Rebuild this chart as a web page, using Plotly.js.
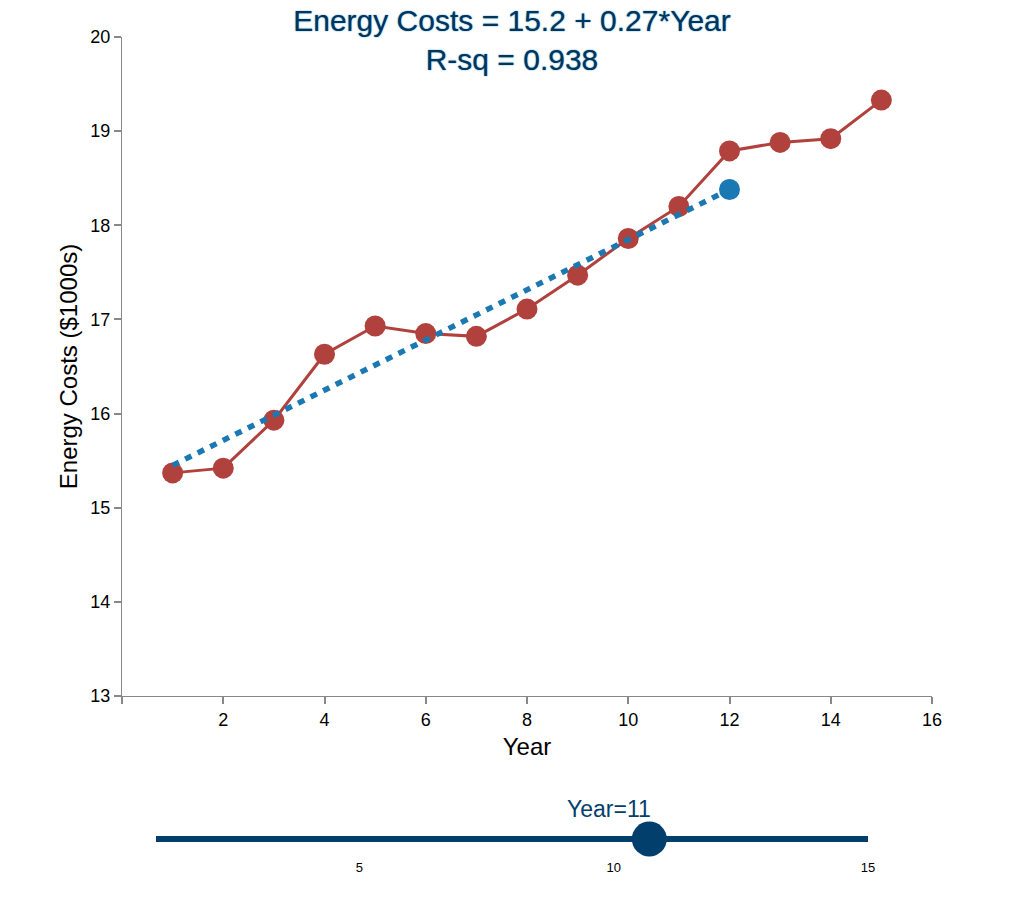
<!DOCTYPE html>
<html>
<head>
<meta charset="utf-8">
<script src="https://cdn.plot.ly/plotly-3.0.1.min.js"></script>
<style>
  html, body { margin: 0; padding: 0; background: #fff; }
  #chart { width: 1016px; height: 900px; }
</style>
</head>
<body>
<div id="chart"></div>
<script>
// ---- data ----
const years = [1, 2, 3, 4, 5, 6, 7, 8, 9, 10, 11, 12, 13, 14, 15];
const energyCosts = [15.37, 15.42, 15.93, 16.63, 16.93, 16.85, 16.82, 17.11, 17.47, 17.86, 18.20, 18.79, 18.88, 18.92, 19.33];
const fitYears = [1, 12];
const fitValues = [15.45, 18.38];
const fitEndYear = [12];
const fitEndValue = [18.38];
const xTickVals = [0, 2, 4, 6, 8, 10, 12, 14, 16];
const xTickText = ['', '2', '4', '6', '8', '10', '12', '14', '16'];
const yTickVals = [13, 14, 15, 16, 17, 18, 19, 20];
const sliderRange = [1, 15];
const sliderTicks = [5, 10, 15];
const sliderValue = 10.7;
const sliderLabel = 'Year=11';
const titleText = 'Energy Costs = 15.2 + 0.27*Year<br>R-sq = 0.938';

// ---- styling ----
const FONT = 'Liberation Sans, Arial, Helvetica, sans-serif';
const RED = '#b1413d';
const BLUE = '#1a78b2';
const NAVY = '#033f6c';
const W = 1016, H = 900;

const traces = [
  {
    x: years, y: energyCosts, xaxis: 'x', yaxis: 'y',
    type: 'scatter', mode: 'lines+markers',
    line: { color: RED, width: 3 },
    marker: { color: RED, size: 21 },
    hoverinfo: 'x+y', showlegend: false
  },
  {
    x: fitYears, y: fitValues, xaxis: 'x', yaxis: 'y',
    type: 'scatter', mode: 'lines',
    line: { color: BLUE, width: 5.5, dash: '7px,7px' },
    showlegend: false
  },
  {
    x: fitEndYear, y: fitEndValue, xaxis: 'x', yaxis: 'y',
    type: 'scatter', mode: 'markers',
    marker: { color: BLUE, size: 21 },
    showlegend: false
  },
  {
    x: sliderRange, y: [0, 0], xaxis: 'x2', yaxis: 'y2',
    type: 'scatter', mode: 'lines',
    line: { color: NAVY, width: 6 },
    hoverinfo: 'skip', showlegend: false
  },
  {
    x: [sliderValue], y: [0], xaxis: 'x2', yaxis: 'y2',
    type: 'scatter', mode: 'markers',
    marker: { color: NAVY, size: 35 },
    showlegend: false
  }
];

const layout = {
  width: W, height: H,
  margin: { l: 0, r: 0, t: 0, b: 0 },
  paper_bgcolor: '#fff', plot_bgcolor: '#fff',
  font: { family: FONT, color: '#000', size: 18 },
  title: {
    text: titleText,
    x: 512 / W, xanchor: 'center',
    y: 1 - 31 / H, yanchor: 'top',
    xref: 'paper', yref: 'paper',
    font: { family: FONT, size: 30, color: '#00355c', shadow: '0px 0px 1.5px #2a86c4' }
  },
  xaxis: {
    domain: [122 / W, 932 / W],
    range: [0, 16],
    tickvals: xTickVals, ticktext: xTickText,
    ticks: 'outside', ticklen: 7, tickwidth: 2, tickcolor: '#888',
    showline: true, linecolor: '#888', linewidth: 1,
    showgrid: false, zeroline: false,
    tickfont: { size: 18, color: '#000' },
    title: { text: 'Year', font: { size: 24, color: '#000' }, standoff: 9 },
    anchor: 'y', fixedrange: true
  },
  yaxis: {
    domain: [1 - 696 / H, 1 - 37 / H],
    range: [13, 20],
    tickvals: yTickVals,
    ticks: 'outside', ticklen: 7, tickwidth: 1.5, tickcolor: '#888',
    showline: true, linecolor: '#888', linewidth: 1,
    showgrid: false, zeroline: false,
    tickfont: { size: 18, color: '#000' },
    title: { text: 'Energy Costs ($1000s)', font: { size: 24, color: '#000' }, standoff: 5 },
    anchor: 'x', fixedrange: true
  },
  xaxis2: {
    domain: [156 / W, 868 / W],
    range: sliderRange,
    tickvals: sliderTicks,
    ticks: '', showline: false, showgrid: false, zeroline: false,
    tickfont: { size: 13, color: '#000' },
    anchor: 'y2', fixedrange: true
  },
  yaxis2: {
    domain: [1 - 858 / H, 1 - 820 / H],
    range: [-1, 1],
    visible: false, fixedrange: true,
    anchor: 'x2'
  },
  annotations: [
    {
      xref: 'x2', yref: 'y2', x: sliderValue, y: 0,
      text: sliderLabel, showarrow: false,
      xanchor: 'right', yanchor: 'bottom', xshift: 4, yshift: 15,
      font: { family: FONT, size: 23, color: NAVY }
    }
  ]
};

Plotly.newPlot('chart', traces, layout, { displayModeBar: false, responsive: false });
</script>
</body>
</html>
